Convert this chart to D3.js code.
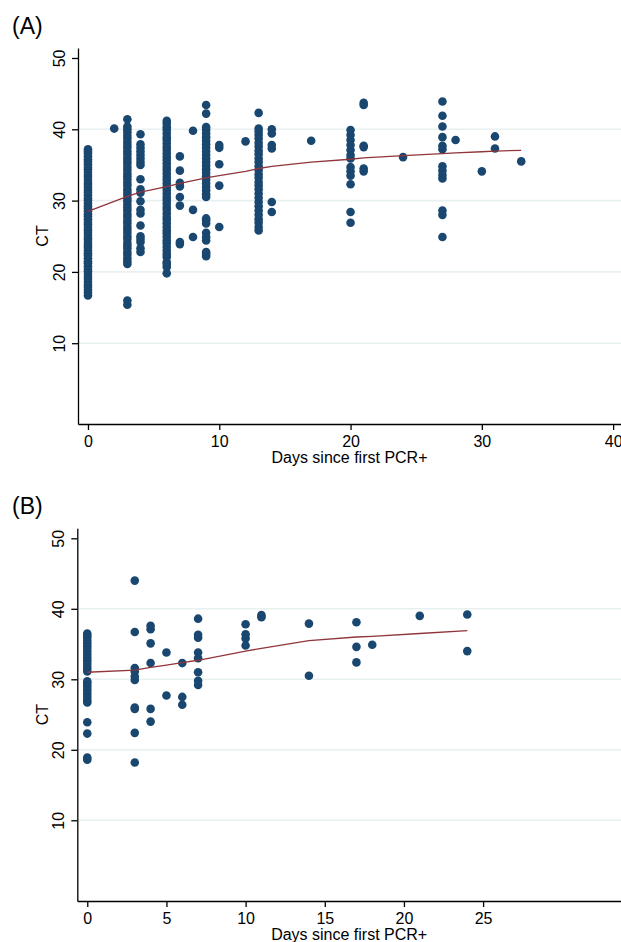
<!DOCTYPE html>
<html>
<head>
<meta charset="utf-8">
<script src="https://cdn.jsdelivr.net/npm/d3@7"></script>
<style>
  body { margin: 0; background: #fff; }
  svg { display: block; font-family: "Liberation Sans", Arial, Helvetica, sans-serif; }
  .tick line { stroke: #000; }
  .domain { stroke: #000; stroke-width: 1.3; }
</style>
</head>
<body>
<svg width="621" height="942"></svg>
<script>
// Panel A: CT values grouped by day since first PCR+
var daysA = [0, 2, 3, 4, 6, 7, 8, 9, 10, 12, 13, 14, 17, 20, 21, 24, 27, 28, 30, 31, 33];
var ctA = [
  [16.7, 17.1, 17.5, 17.9, 18.2, 18.6, 19.0, 19.3, 19.7, 20.1, 20.4, 20.8, 21.2, 21.5, 21.9, 22.3, 22.6, 23.0, 23.4, 23.7,
   24.1, 24.5, 24.8, 25.2, 25.6, 25.9, 26.3, 26.7, 27.0, 27.4, 27.8, 28.1, 28.5, 28.9, 29.2, 29.6, 30.0, 30.3, 30.7, 31.1,
   31.4, 31.8, 32.2, 32.5, 32.9, 33.3, 33.6, 34.0, 34.4, 34.7, 35.1, 35.5, 35.8, 36.2, 36.6, 36.9, 37.2],
  [40.1],
  [15.4, 16.0, 21.1, 21.5, 21.9, 22.4, 22.8, 23.3, 23.7, 24.1, 24.6, 25.0, 25.5, 25.9, 26.3, 26.8, 27.2, 27.7, 28.1, 28.6,
   29.0, 29.4, 29.9, 30.3, 30.8, 31.2, 31.6, 32.1, 32.5, 33.0, 33.4, 33.8, 34.3, 34.7, 35.2, 35.6, 36.0, 36.5, 36.9, 37.4,
   37.8, 38.2, 38.7, 39.1, 39.6, 40.0, 40.4, 41.4],
  [22.8, 23.3, 24.2, 24.6, 25.0, 26.5, 28.2, 28.7, 29.9, 31.1, 31.6, 33.0, 35.0, 35.4, 35.9, 36.4, 36.9, 37.4, 37.9, 39.3],
  [19.8, 20.7, 21.1, 21.4, 22.1, 22.5, 23.0, 23.5, 24.0, 24.4, 24.9, 25.4, 25.8, 26.3, 26.8, 27.3, 27.7, 28.2, 28.7, 29.1,
   29.6, 30.1, 30.5, 31.0, 31.5, 31.9, 32.4, 32.9, 33.3, 33.8, 34.3, 34.7, 35.2, 35.7, 36.1, 36.6, 37.1, 37.5, 38.0, 38.5,
   38.9, 39.4, 39.9, 40.3, 40.8, 41.2],
  [23.9, 24.2, 29.3, 30.5, 32.0, 32.5, 34.2, 36.2],
  [24.9, 28.7, 39.8],
  [22.2, 22.5, 22.8, 24.4, 24.9, 25.5, 26.8, 27.2, 27.5, 30.5, 30.9, 31.4, 31.9, 32.4, 32.9, 33.4, 33.9, 34.4, 34.9, 35.4,
   35.9, 36.4, 36.9, 37.4, 37.9, 38.4, 38.9, 39.4, 39.9, 40.3, 42.2, 43.4],
  [26.3, 32.1, 35.1, 37.4, 37.8],
  [38.3],
  [25.8, 26.3, 26.9, 27.4, 28.0, 28.6, 29.2, 29.8, 30.4, 31.0, 31.6, 32.1, 32.6, 33.2, 33.7, 34.3, 34.8, 35.4, 35.9, 36.5,
   37.0, 37.6, 38.1, 38.7, 39.2, 39.7, 40.1, 42.3],
  [28.4, 29.8, 37.3, 37.8, 39.4, 40.0],
  [38.4],
  [26.9, 28.4, 32.3, 33.5, 34.1, 34.7, 35.9, 36.4, 37.1, 37.8, 38.5, 39.2, 39.9],
  [34.1, 34.5, 37.5, 37.7, 43.4, 43.7],
  [36.1],
  [24.9, 28.0, 28.6, 33.1, 33.6, 34.2, 34.8, 37.2, 37.7, 38.9, 40.4, 41.9, 43.9],
  [38.5],
  [34.1],
  [37.3, 39.0],
  [35.5]
];
var lowessA = [28.5, 29.9, 30.6, 31.2, 31.95, 32.4, 32.8, 33.2, 33.5, 34.1, 34.5, 34.8, 35.4, 35.8, 36.0, 36.3, 36.6, 36.7, 36.85, 36.95, 37.05];

// Panel B
var daysB = [0, 3, 4, 5, 6, 7, 10, 11, 14, 17, 18, 21, 24];
var ctB = [
  [18.6, 18.9, 22.3, 23.9, 26.7, 27.0, 27.4, 27.8, 28.2, 28.6, 29.0, 29.4, 29.7, 31.1, 31.5, 31.9, 32.3, 32.7, 33.1, 33.5,
   33.9, 34.3, 34.7, 35.1, 35.5, 35.9, 36.2, 36.5],
  [18.2, 22.4, 25.8, 26.0, 29.9, 30.4, 31.1, 31.6, 36.7, 44.0],
  [24.0, 25.8, 32.3, 35.1, 37.1, 37.6],
  [27.7, 33.8],
  [26.4, 27.5, 32.3],
  [29.2, 29.8, 31.0, 33.0, 33.8, 35.9, 36.3, 38.6],
  [34.8, 35.8, 36.4, 37.8],
  [38.8, 39.1],
  [30.5, 37.9],
  [32.4, 34.6, 38.1],
  [34.9],
  [39.0],
  [34.0, 39.2]
];
var lowessB = [31.0, 31.3, 31.7, 32.0, 32.35, 32.7, 34.0, 34.4, 35.5, 36.0, 36.1, 36.5, 36.9];

var yTicks = [10, 20, 30, 40, 50];
var xTicksA = [0, 10, 20, 30, 40];
var xTicksB = [0, 5, 10, 15, 20, 25];

var navy = "#1a476f", maroon = "#90353b", gridColor = "#e9f0f2";

var svg = d3.select("svg");

function drawPanel(p) {
  var x = d3.scaleLinear().domain(p.xDomain).range([p.left, p.right]);
  var y = d3.scaleLinear().domain(p.yDomain).range([p.bottom, p.top]);
  var g = svg.append("g");

  // grid (interior ticks only)
  g.append("g").selectAll("line").data(yTicks.slice(0, -1)).enter().append("line")
    .attr("x1", p.left).attr("x2", p.right)
    .attr("y1", function (d) { return y(d); }).attr("y2", function (d) { return y(d); })
    .attr("stroke", gridColor).attr("stroke-width", 1.6);

  // points
  var pts = [];
  p.days.forEach(function (d, i) {
    p.ct[i].forEach(function (v) { pts.push({ day: d, ct: v }); });
  });
  g.append("g").selectAll("circle").data(pts).enter().append("circle")
    .attr("cx", function (d) { return x(d.day); })
    .attr("cy", function (d) { return y(d.ct); })
    .attr("r", 4.3)
    .attr("fill", navy);

  // lowess
  var line = d3.line().x(function (d, i) { return x(p.days[i]); }).y(function (d) { return y(d); });
  g.append("path").datum(p.lowess).attr("d", line)
    .attr("fill", "none").attr("stroke", maroon).attr("stroke-width", 1.3);

  // axes
  var ya = g.append("g").attr("transform", "translate(" + p.left + ",0)")
    .call(d3.axisLeft(y).tickValues(yTicks).tickSize(6).tickSizeOuter(0));
  ya.selectAll("text").attr("x", null).attr("dy", null)
    .attr("text-anchor", "middle").attr("fill", "#000")
    .attr("transform", "translate(-13,0) rotate(-90)")
    .style("font-size", "16px");

  var xa = g.append("g").attr("transform", "translate(0," + p.bottom + ")")
    .call(d3.axisBottom(x).tickValues(p.xTicks).tickSize(6).tickSizeOuter(0));
  xa.selectAll("text").attr("y", null).attr("dy", null)
    .attr("transform", "translate(0,22.5)").attr("fill", "#000")
    .style("font-size", "16px");
  xa.selectAll(".domain, .tick line").attr("stroke-width", 1.3);
  ya.selectAll(".domain, .tick line").attr("stroke-width", 1.3);

  g.append("text").attr("x", (p.left + p.right) / 2).attr("y", p.bottom + 38.5)
    .attr("text-anchor", "middle").style("font-size", "16px").text("Days since first PCR+");

  g.append("text").attr("transform", "translate(48," + (p.top + p.bottom) / 2 + ") rotate(-90)")
    .attr("text-anchor", "middle").style("font-size", "16px").text("CT");

  g.append("text").attr("x", 12).attr("y", p.top - 14.5)
    .style("font-size", "23px").text(p.title);
}

drawPanel({
  title: "(A)", days: daysA, ct: ctA, lowess: lowessA, xTicks: xTicksA,
  left: 78, right: 621, top: 48, bottom: 424,
  xDomain: [-0.76, 40.6], yDomain: [-1.33, 51.4]
});

drawPanel({
  title: "(B)", days: daysB, ct: ctB, lowess: lowessB, xTicks: xTicksB,
  left: 77.3, right: 621, top: 528.3, bottom: 901,
  xDomain: [-0.63, 33.71], yDomain: [-1.45, 51.42]
});
</script>
</body>
</html>
